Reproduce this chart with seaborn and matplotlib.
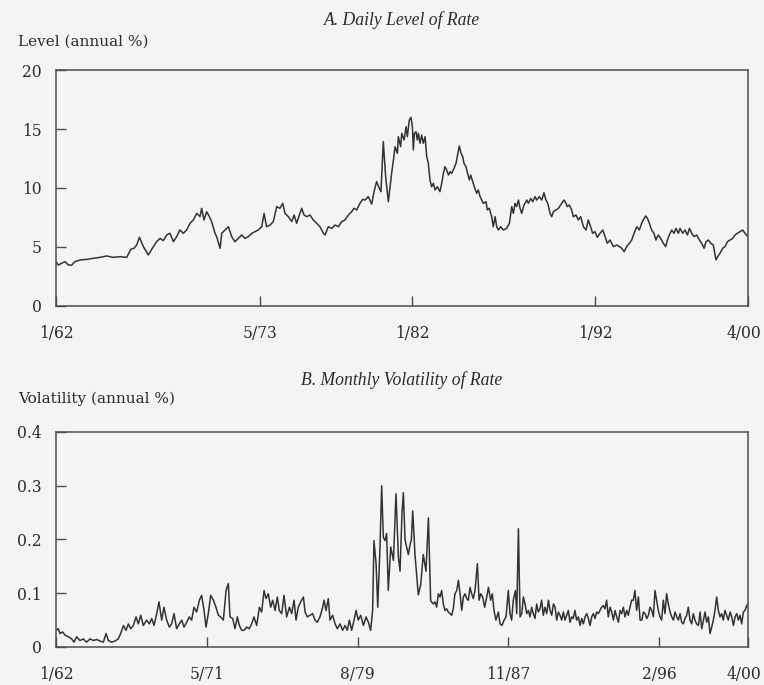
import numpy as np
import pandas as pd
import seaborn as sns
import matplotlib.pyplot as plt
from matplotlib.transforms import ScaledTranslation

# ---------------- Panel A: daily level of the short rate (annual %) ----------------
level_year = [
    1962.00, 1962.13, 1962.31, 1962.50, 1962.68, 1962.87, 1963.05, 1963.33, 1963.70, 1964.06,
    1964.43, 1964.80, 1965.17, 1965.54, 1965.91, 1966.13, 1966.31, 1966.46, 1966.61, 1966.83,
    1967.10, 1967.38, 1967.56, 1967.75, 1967.93, 1968.12, 1968.30, 1968.49, 1968.67, 1968.85,
    1969.04, 1969.22, 1969.41, 1969.59, 1969.78, 1969.96, 1970.05, 1970.18, 1970.33, 1970.48,
    1970.60, 1970.79, 1970.88, 1971.07, 1971.16, 1971.34, 1971.53, 1971.71, 1971.89, 1972.08,
    1972.26, 1972.45, 1972.63, 1972.82, 1973.00, 1973.18, 1973.37, 1973.50, 1973.64, 1973.83,
    1974.01, 1974.20, 1974.38, 1974.53, 1974.66, 1974.84, 1975.03, 1975.16, 1975.30, 1975.45,
    1975.58, 1975.71, 1975.86, 1976.04, 1976.22, 1976.41, 1976.59, 1976.78, 1976.87, 1977.05,
    1977.24, 1977.42, 1977.61, 1977.79, 1977.97, 1978.16, 1978.34, 1978.47, 1978.62, 1978.80,
    1978.95, 1979.08, 1979.26, 1979.45, 1979.58, 1979.72, 1979.87, 1979.96, 1980.09, 1980.22,
    1980.37, 1980.55, 1980.65, 1980.74, 1980.87, 1980.92, 1981.05, 1981.11, 1981.24, 1981.35,
    1981.42, 1981.53, 1981.62, 1981.70, 1981.75, 1981.81, 1981.90, 1981.97, 1982.03, 1982.12,
    1982.21, 1982.30, 1982.40, 1982.49, 1982.58, 1982.67, 1982.76, 1982.86, 1982.95, 1983.08,
    1983.22, 1983.32, 1983.41, 1983.50, 1983.59, 1983.69, 1983.78, 1983.87, 1984.00, 1984.11,
    1984.18, 1984.29, 1984.39, 1984.48, 1984.55, 1984.66, 1984.75, 1984.85, 1984.92, 1985.03,
    1985.12, 1985.25, 1985.34, 1985.44, 1985.53, 1985.62, 1985.77, 1985.84, 1985.95, 1986.08,
    1986.17, 1986.27, 1986.36, 1986.45, 1986.58, 1986.73, 1986.91, 1987.06, 1987.19, 1987.28,
    1987.37, 1987.46, 1987.56, 1987.65, 1987.74, 1987.87, 1988.02, 1988.11, 1988.24, 1988.35,
    1988.48, 1988.57, 1988.72, 1988.85, 1988.97, 1989.08, 1989.18, 1989.31, 1989.40, 1989.49,
    1989.64, 1989.77, 1989.95, 1990.08, 1990.19, 1990.26, 1990.37, 1990.50, 1990.59, 1990.74,
    1990.87, 1991.00, 1991.15, 1991.30, 1991.42, 1991.55, 1991.66, 1991.79, 1991.92, 1992.07,
    1992.22, 1992.35, 1992.47, 1992.62, 1992.81, 1992.99, 1993.14, 1993.27, 1993.40, 1993.54,
    1993.69, 1993.82, 1993.95, 1994.10, 1994.24, 1994.37, 1994.46, 1994.59, 1994.69, 1994.80,
    1994.92, 1995.05, 1995.16, 1995.29, 1995.42, 1995.57, 1995.70, 1995.79, 1995.90, 1996.03,
    1996.16, 1996.27, 1996.40, 1996.49, 1996.64, 1996.77, 1996.90, 1997.01, 1997.14, 1997.27,
    1997.41, 1997.56, 1997.69, 1997.82, 1997.93, 1998.06, 1998.19, 1998.33, 1998.48, 1998.57,
    1998.70, 1998.85, 1998.98, 1999.11, 1999.26, 1999.40, 1999.53, 1999.66, 1999.81, 1999.96,
    2000.08, 2000.21,
]
level_pct = [
    3.76, 3.47, 3.62, 3.76, 3.47, 3.47, 3.76, 3.90, 3.95, 4.04,
    4.12, 4.24, 4.12, 4.18, 4.12, 4.80, 4.89, 5.17, 5.82, 5.03,
    4.32, 5.03, 5.45, 5.73, 5.54, 6.02, 6.16, 5.45, 5.88, 6.44,
    6.16, 6.44, 7.01, 7.29, 7.85, 7.57, 8.28, 7.29, 7.99, 7.57,
    7.15, 6.16, 5.88, 4.89, 6.16, 6.44, 6.72, 5.88, 5.45, 5.73,
    6.02, 5.73, 5.88, 6.16, 6.30, 6.44, 6.72, 7.85, 6.72, 6.86,
    7.15, 8.42, 8.28, 8.70, 7.85, 7.57, 7.15, 7.71, 7.01, 7.71,
    8.28, 7.71, 7.57, 7.71, 7.29, 7.01, 6.72, 6.16, 6.02, 6.72,
    6.58, 6.86, 6.72, 7.15, 7.29, 7.71, 7.99, 8.28, 8.14, 8.70,
    9.04, 8.98, 9.27, 8.64, 9.69, 10.54, 9.97, 9.69, 13.93, 10.96,
    8.84, 11.24, 12.37, 13.50, 12.94, 14.35, 13.50, 14.63, 14.07, 15.20,
    14.35, 15.76, 15.99, 15.20, 13.22, 14.63, 14.77, 14.07, 14.63, 13.79,
    14.49, 13.79, 14.35, 12.66, 12.09, 10.68, 10.11, 10.40, 9.83, 10.11,
    9.69, 10.40, 11.24, 11.81, 11.53, 11.10, 11.38, 11.24, 11.67, 12.09,
    12.66, 13.56, 12.94, 12.66, 12.09, 11.81, 11.24, 10.68, 11.10, 10.54,
    10.11, 9.55, 9.83, 9.27, 8.98, 8.70, 8.84, 8.14, 8.28, 7.57,
    6.72, 7.57, 6.72, 6.44, 6.72, 6.44, 6.58, 7.01, 8.42, 7.85,
    8.70, 8.42, 8.98, 8.28, 7.85, 8.56, 8.98, 8.70, 9.12, 8.84,
    9.27, 8.98, 9.27, 8.98, 9.60, 8.98, 8.70, 7.85, 7.57, 7.99,
    8.14, 8.28, 8.70, 8.98, 8.70, 8.42, 8.56, 8.14, 7.57, 7.71,
    7.29, 7.57, 6.72, 6.44, 7.29, 6.72, 6.16, 6.30, 5.82, 6.16,
    6.44, 5.88, 5.31, 5.59, 5.03, 5.17, 5.03, 4.89, 4.60, 5.03,
    5.31, 5.59, 6.16, 6.72, 6.44, 7.01, 7.29, 7.63, 7.43, 7.01,
    6.44, 6.16, 5.59, 6.02, 5.73, 5.31, 5.03, 5.59, 6.02, 6.44,
    6.16, 6.58, 6.16, 6.58, 6.16, 6.44, 6.02, 6.58, 6.16, 5.88,
    6.02, 5.59, 5.31, 4.89, 5.45, 5.59, 5.31, 5.17, 3.90, 4.18,
    4.46, 4.89, 5.03, 5.45, 5.59, 5.73, 6.02, 6.16, 6.30, 6.44,
    6.16, 5.93,
]
level_ticks = [1962.0, 1973.28, 1981.69, 1991.79, 2000.25]
level_tick_labels = ["1/62", "5/73", "1/82", "1/92", "4/00"]

# ---------------- Panel B: monthly volatility of the rate (annual %) ----------------
vol_month = [
    0.0, 1.5, 2.7, 4.4, 6.0, 8.2, 10.4, 11.9, 13.7, 15.9,
    18.1, 20.3, 22.6, 24.8, 27.0, 29.2, 31.4, 33.2, 34.7, 36.9,
    39.1, 41.3, 42.9, 44.7, 46.4, 48.0, 49.5, 51.3, 53.1, 54.6,
    56.2, 57.9, 60.1, 61.9, 63.5, 65.0, 66.8, 68.3, 70.1, 71.6,
    73.4, 75.2, 76.7, 78.3, 80.0, 81.8, 83.4, 84.9, 86.7, 88.4,
    90.0, 91.5, 93.3, 95.1, 96.6, 98.2, 99.5, 101.0, 102.6, 104.4,
    106.1, 107.7, 109.2, 111.0, 112.8, 114.3, 115.4, 117.2, 118.7, 120.3,
    121.6, 123.2, 124.7, 126.5, 128.2, 129.8, 131.3, 133.1, 134.9, 136.4,
    138.0, 139.3, 140.8, 142.4, 143.7, 145.3, 146.8, 148.1, 149.7, 151.2,
    153.0, 154.8, 156.3, 157.9, 159.2, 160.7, 162.3, 164.1, 165.2, 166.7,
    168.5, 170.2, 171.8, 173.3, 175.1, 176.9, 177.8, 179.1, 180.6, 181.7,
    183.5, 185.1, 186.6, 188.4, 190.1, 191.7, 193.2, 194.6, 196.1, 197.7,
    199.0, 200.5, 202.1, 203.9, 205.6, 207.2, 208.7, 210.0, 210.9, 212.3,
    213.4, 214.9, 216.0, 217.1, 218.2, 219.3, 220.4, 222.0, 223.8, 225.5,
    227.1, 228.2, 229.5, 230.4, 231.5, 232.2, 233.7, 234.8, 235.7, 236.6,
    238.1, 239.2, 240.3, 241.9, 243.6, 245.4, 247.0, 248.5, 250.3, 251.4,
    252.5, 253.6, 254.7, 255.8, 256.9, 258.0, 259.1, 260.2, 261.3, 262.4,
    263.5, 264.6, 265.8, 266.9, 268.0, 269.1, 270.2, 271.3, 272.4, 273.5,
    274.6, 275.7, 276.8, 277.9, 279.5, 280.6, 281.7, 283.0, 284.3, 285.7,
    286.8, 288.3, 289.4, 290.5, 291.8, 293.4, 294.5, 295.8, 297.2, 298.5,
    300.0, 301.1, 302.2, 303.3, 304.7, 305.6, 306.7, 307.8, 308.9, 310.0,
    311.1, 312.2, 313.3, 314.4, 315.5, 316.6, 317.7, 318.8, 319.9, 321.0,
    322.1, 323.2, 324.3, 325.5, 326.6, 327.7, 328.8, 329.9, 331.0, 332.1,
    333.2, 334.3, 335.4, 336.5, 337.6, 338.7, 339.8, 340.9, 342.0, 343.1,
    344.2, 345.3, 346.5, 347.6, 348.7, 349.8, 350.9, 352.0, 353.1, 354.2,
    355.3, 356.4, 357.5, 358.6, 359.7, 360.8, 361.9, 363.0, 364.1, 365.2,
    366.3, 367.5, 368.6, 369.7, 370.8, 371.9, 373.0, 374.1, 375.2, 376.3,
    377.4, 378.5, 379.6, 380.7, 381.8, 382.9, 384.0, 385.1, 386.3, 387.4,
    388.5, 389.6, 390.7, 391.8, 392.9, 394.0, 395.1, 396.2, 397.3, 398.4,
    399.5, 400.6, 401.7, 402.8, 403.9, 405.0, 406.1, 407.3, 408.4, 409.5,
    410.6, 411.7, 412.8, 413.9, 415.0, 416.1, 417.2, 418.3, 419.4, 420.5,
    421.6, 422.7, 423.8, 424.9, 426.1, 427.2, 428.3, 429.4, 430.5, 431.6,
    432.7, 433.8, 434.9, 436.0, 437.1, 438.2, 439.3, 440.4, 441.5, 442.6,
    443.7, 444.8, 445.9, 447.1, 448.2, 449.3, 450.4, 451.5, 452.6, 453.7,
    454.8, 455.9, 457.0, 458.1, 459.0,
]
vol_pct = [
    0.031, 0.034, 0.025, 0.028, 0.022, 0.019, 0.015, 0.009, 0.019, 0.012,
    0.015, 0.009, 0.015, 0.012, 0.014, 0.011, 0.009, 0.025, 0.012, 0.009,
    0.011, 0.015, 0.025, 0.040, 0.031, 0.043, 0.034, 0.040, 0.056, 0.043,
    0.059, 0.040, 0.050, 0.043, 0.053, 0.040, 0.062, 0.084, 0.050, 0.074,
    0.050, 0.037, 0.043, 0.062, 0.034, 0.043, 0.050, 0.037, 0.046, 0.056,
    0.050, 0.074, 0.065, 0.087, 0.096, 0.068, 0.037, 0.062, 0.096, 0.087,
    0.074, 0.059, 0.056, 0.050, 0.105, 0.118, 0.056, 0.053, 0.034, 0.056,
    0.040, 0.031, 0.031, 0.037, 0.034, 0.043, 0.056, 0.040, 0.074, 0.065,
    0.105, 0.090, 0.099, 0.074, 0.087, 0.068, 0.093, 0.068, 0.062, 0.096,
    0.056, 0.074, 0.062, 0.087, 0.050, 0.074, 0.084, 0.093, 0.065, 0.056,
    0.059, 0.062, 0.050, 0.046, 0.056, 0.074, 0.087, 0.068, 0.090, 0.050,
    0.059, 0.043, 0.034, 0.043, 0.031, 0.040, 0.031, 0.050, 0.031, 0.050,
    0.068, 0.050, 0.059, 0.040, 0.056, 0.046, 0.031, 0.068, 0.198, 0.155,
    0.074, 0.186, 0.300, 0.204, 0.198, 0.211, 0.105, 0.186, 0.161, 0.285,
    0.167, 0.141, 0.250, 0.287, 0.200, 0.190, 0.172, 0.190, 0.200, 0.253,
    0.172, 0.135, 0.097, 0.116, 0.172, 0.141, 0.240, 0.086, 0.080, 0.084,
    0.074, 0.099, 0.093, 0.105, 0.080, 0.068, 0.071, 0.065, 0.062, 0.059,
    0.071, 0.099, 0.105, 0.124, 0.099, 0.068, 0.093, 0.099, 0.090, 0.087,
    0.111, 0.099, 0.090, 0.105, 0.155, 0.087, 0.099, 0.093, 0.074, 0.093,
    0.111, 0.087, 0.099, 0.068, 0.050, 0.065, 0.043, 0.040, 0.050, 0.056,
    0.105, 0.062, 0.050, 0.087, 0.105, 0.062, 0.220, 0.056, 0.062, 0.093,
    0.080, 0.062, 0.068, 0.056, 0.074, 0.062, 0.053, 0.080, 0.065, 0.071,
    0.087, 0.059, 0.074, 0.062, 0.087, 0.068, 0.059, 0.080, 0.074, 0.050,
    0.065, 0.059, 0.050, 0.065, 0.050, 0.059, 0.068, 0.046, 0.056, 0.053,
    0.068, 0.050, 0.056, 0.040, 0.053, 0.043, 0.056, 0.062, 0.053, 0.040,
    0.056, 0.062, 0.053, 0.065, 0.062, 0.068, 0.074, 0.077, 0.071, 0.087,
    0.056, 0.074, 0.065, 0.050, 0.068, 0.056, 0.046, 0.068, 0.062, 0.074,
    0.056, 0.068, 0.059, 0.074, 0.087, 0.087, 0.105, 0.068, 0.093, 0.050,
    0.050, 0.065, 0.062, 0.053, 0.059, 0.074, 0.068, 0.056, 0.105, 0.087,
    0.068, 0.056, 0.050, 0.087, 0.062, 0.099, 0.080, 0.065, 0.056, 0.050,
    0.065, 0.056, 0.050, 0.062, 0.046, 0.043, 0.053, 0.059, 0.074, 0.050,
    0.043, 0.062, 0.050, 0.043, 0.040, 0.065, 0.034, 0.050, 0.065, 0.046,
    0.056, 0.025, 0.037, 0.050, 0.068, 0.093, 0.068, 0.056, 0.062, 0.050,
    0.068, 0.059, 0.050, 0.065, 0.056, 0.040, 0.056, 0.062, 0.050, 0.059,
    0.043, 0.065, 0.068, 0.077, 0.080,
]
vol_ticks = [0, 100, 200, 300, 400, 459]
vol_tick_labels = ["1/62", "5/71", "8/79", "11/87", "2/96", "4/00"]

level_df = pd.DataFrame({"year": level_year, "level": level_pct})
vol_df = pd.DataFrame({"month": vol_month, "vol": vol_pct})

# ---------------- styling ----------------
sns.set_theme(style="ticks")
paper = "#f4f4f3"
ink = "#2b2b2b"
plt.rcParams.update({
    "font.family": ["DejaVu Serif"],
    "figure.facecolor": paper,
    "axes.facecolor": paper,
    "axes.edgecolor": "#4d4d4d",
    "axes.linewidth": 1.1,
    "text.color": ink,
    "xtick.color": "#4d4d4d",
    "ytick.color": "#4d4d4d",
    "xtick.labelcolor": ink,
    "ytick.labelcolor": ink,
})

fig = plt.figure(figsize=(7.64, 6.85), dpi=100)
ax1 = fig.add_axes([0.0733, 0.5533, 0.9058, 0.3445])
ax2 = fig.add_axes([0.0733, 0.0555, 0.9058, 0.3139])

line_kw = dict(color="#333333", linewidth=1.1, sort=False, estimator=None)
sns.lineplot(data=level_df, x="year", y="level", ax=ax1, **line_kw)
sns.lineplot(data=vol_df, x="month", y="vol", ax=ax2, **line_kw)

ax1.set_xlim(1962.0, 2000.25)
ax1.set_ylim(0, 20)
ax1.set_yticks([0, 5, 10, 15, 20])
ax1.set_xticks(level_ticks)
ax1.set_xticklabels(level_tick_labels)

ax2.set_xlim(0, 459)
ax2.set_ylim(0, 0.4)
ax2.set_yticks([0, 0.1, 0.2, 0.3, 0.4])
ax2.set_yticklabels(["0", "0.1", "0.2", "0.3", "0.4"])
ax2.set_xticks(vol_ticks)
ax2.set_xticklabels(vol_tick_labels)

for ax in (ax1, ax2):
    ax.set_xlabel("")
    ax.set_ylabel("")
    for s in ax.spines.values():
        s.set_visible(True)
    ax.tick_params(axis="both", direction="in", length=7, width=1.0, labelsize=11.2)
    ax.tick_params(axis="y", pad=10)
    ax.tick_params(axis="x", pad=14)
    # keep the last date label inside the page edge
    last = ax.get_xticklabels()[-1]
    last.set_transform(last.get_transform() + ScaledTranslation(-4 / 100, 0, fig.dpi_scale_trans))

title_font = dict(family=["Liberation Serif"], style="italic", size=12.7, color=ink)
fig.text(402 / 764, 1 - 20 / 685, "A. Daily Level of Rate", ha="center", va="center", **title_font)
fig.text(402 / 764, 1 - 380 / 685, "B. Monthly Volatility of Rate", ha="center", va="center", **title_font)

label_font = dict(family=["DejaVu Serif"], size=11, color=ink)
fig.text(18 / 764, 1 - 42 / 685, "Level (annual %)", ha="left", va="center", **label_font)
fig.text(18 / 764, 1 - 399 / 685, "Volatility (annual %)", ha="left", va="center", **label_font)

fig.savefig("out.png", dpi=100, facecolor=paper)
